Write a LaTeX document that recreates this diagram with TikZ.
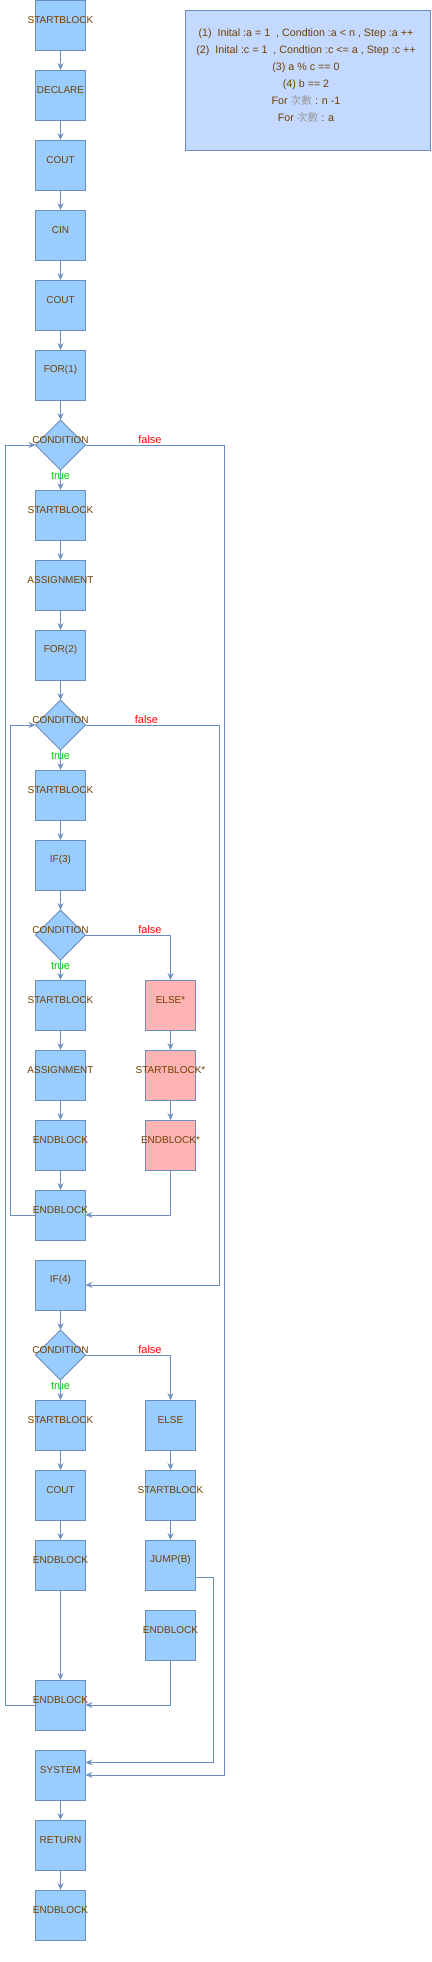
\documentclass[tikz,border=0pt]{standalone}
\usepackage{fontspec}
\setmainfont{Liberation Sans}
\newfontfamily\cjkfont{Noto Sans CJK TC}
\usetikzlibrary{arrows.meta,shapes.geometric,calc}
\definecolor{bfill}{HTML}{99CCFF}
\definecolor{bline}{HTML}{6C8EBF}
\definecolor{rfill}{HTML}{FFB3B3}
\definecolor{nfill}{HTML}{C4D9FF}
\definecolor{tcol}{HTML}{704000}
\definecolor{gcol}{HTML}{9A9A9A}
\definecolor{fcol}{HTML}{FF0000}
\definecolor{trcol}{HTML}{00CC00}
\begin{document}
\begin{tikzpicture}[x=1pt,y=-1pt,
 box/.style={draw=bline, fill=bfill, line width=1pt, minimum width=50pt, minimum height=50pt, inner sep=0pt, outer sep=0pt},
 rbox/.style={box, fill=rfill},
 cond/.style={diamond, draw=bline, fill=bfill, line width=1pt, minimum width=50pt, minimum height=50pt, inner sep=0pt, outer sep=0pt, aspect=1},
 txt/.style={text=tcol, font=\fontsize{10}{12}\selectfont, inner sep=0pt},
 arr/.style={draw=bline, line width=1pt, -{Stealth[length=7pt,width=6pt,inset=2.5pt]}},
 flbl/.style={text=fcol, font=\fontsize{11}{13}\selectfont, inner sep=0pt},
 tlbl/.style={text=trcol, font=\fontsize{11}{13}\selectfont, inner sep=0pt},
]
\useasboundingbox (0,0) rectangle (431,1962);

% note
\node[draw=bline, fill=nfill, line width=1pt, minimum width=245pt, minimum height=140pt, inner sep=0pt] (note) at (307.8,80.3) {};
\node[text=tcol, inner sep=0pt, align=center, font=\fontsize{10.7}{17}\selectfont] (notetxt) at (306,75.7) {(1)\ \ Inital :a = 1\ \ , Condtion :a < n , Step :a ++\\(2)\ \ Inital :c = 1\ \ , Condtion :c <= a , Step :c ++\\(3) a \% c == 0\\(4) b == 2\\For {\cjkfont\color{gcol}次數} : n -1\\For {\cjkfont\color{gcol}次數} : a};

% left column
\node[box, label={[txt,yshift=5pt]center:STARTBLOCK}] (s0) at (60.5,25) {};
\node[box, label={[txt,yshift=5pt]center:DECLARE}] (decl) at (60.5,95) {};
\node[box, label={[txt,yshift=5pt]center:COUT}] (cout1) at (60.5,165) {};
\node[box, label={[txt,yshift=5pt]center:CIN}] (cin) at (60.5,235) {};
\node[box, label={[txt,yshift=5pt]center:COUT}] (cout2) at (60.5,305) {};
\node[box, label={[txt,yshift=5pt]center:FOR(1)}] (for1) at (60.5,375) {};
\node[cond, label={[txt,yshift=5pt]center:CONDITION}] (c1) at (60.5,445) {};
\node[box, label={[txt,yshift=5pt]center:STARTBLOCK}] (sb1) at (60.5,515) {};
\node[box, label={[txt,yshift=5pt]center:ASSIGNMENT}] (asg1) at (60.5,585) {};
\node[box, label={[txt,yshift=5pt]center:FOR(2)}] (for2) at (60.5,655) {};
\node[cond, label={[txt,yshift=5pt]center:CONDITION}] (c2) at (60.5,725) {};
\node[box, label={[txt,yshift=5pt]center:STARTBLOCK}] (sb2) at (60.5,795) {};
\node[box, label={[txt,yshift=5pt]center:IF(3)}] (if3) at (60.5,865) {};
\node[cond, label={[txt,yshift=5pt]center:CONDITION}] (c3) at (60.5,935) {};
\node[box, label={[txt,yshift=5pt]center:STARTBLOCK}] (sb3) at (60.5,1005) {};
\node[box, label={[txt,yshift=5pt]center:ASSIGNMENT}] (asg2) at (60.5,1075) {};
\node[box, label={[txt,yshift=5pt]center:ENDBLOCK}] (eb3) at (60.5,1145) {};
\node[box, label={[txt,yshift=5pt]center:ENDBLOCK}] (eb2) at (60.5,1215) {};
\node[box, label={[txt,yshift=5pt]center:IF(4)}] (if4) at (60.5,1285) {};
\node[cond, label={[txt,yshift=5pt]center:CONDITION}] (c4) at (60.5,1355) {};
\node[box, label={[txt,yshift=5pt]center:STARTBLOCK}] (sb4) at (60.5,1425) {};
\node[box, label={[txt,yshift=5pt]center:COUT}] (cout3) at (60.5,1495) {};
\node[box, label={[txt,yshift=5pt]center:ENDBLOCK}] (eb4) at (60.5,1565) {};
\node[box, label={[txt,yshift=5pt]center:ENDBLOCK}] (eb1) at (60.5,1705) {};
\node[box, label={[txt,yshift=5pt]center:SYSTEM}] (sys) at (60.5,1775) {};
\node[box, label={[txt,yshift=5pt]center:RETURN}] (ret) at (60.5,1845) {};
\node[box, label={[txt,yshift=5pt]center:ENDBLOCK}] (fin) at (60.5,1915) {};

% right column
\node[rbox, label={[txt,yshift=5pt]center:ELSE*}] (else3) at (170.5,1005) {};
\node[rbox, label={[txt,yshift=5pt]center:STARTBLOCK*}] (sb3r) at (170.5,1075) {};
\node[rbox, label={[txt,yshift=5pt]center:ENDBLOCK*}] (eb3r) at (170.5,1145) {};
\node[box, label={[txt,yshift=5pt]center:ELSE}] (else4) at (170.5,1425) {};
\node[box, label={[txt,yshift=5pt]center:STARTBLOCK}] (sb4r) at (170.5,1495) {};
\node[box, label={[txt,yshift=5pt]center:JUMP(B)}] (jump) at (170.5,1565) {};
\node[box, label={[txt,yshift=5pt]center:ENDBLOCK}] (eb4r) at (170.5,1635) {};

% straight arrows
\foreach \a/\b in {s0/decl,decl/cout1,cout1/cin,cin/cout2,cout2/for1,for1/c1,c1/sb1,sb1/asg1,asg1/for2,for2/c2,c2/sb2,sb2/if3,if3/c3,c3/sb3,sb3/asg2,asg2/eb3,eb3/eb2,if4/c4,c4/sb4,sb4/cout3,cout3/eb4,eb4/eb1,sys/ret,ret/fin,else3/sb3r,sb3r/eb3r,else4/sb4r,sb4r/jump}
  \draw[arr] (\a.south) -- (\b.north);

% loops
\coordinate (L1) at (5.3,445);
\coordinate (R1) at (224.3,445);
\coordinate (L2) at (10.7,725);
\coordinate (R2) at (219.3,725);
\coordinate (R3) at (213.3,0);
\draw[arr] (eb1.west) -| (L1) -- (c1.west);
\draw[arr] (c1.east) -- (R1) |- (sys.east);
\draw[arr] (eb2.west) -| (L2) -- (c2.west);
\draw[arr] (c2.east) -- (R2) |- (if4.east);
\draw[arr] (c3.east) -| (else3.north);
\draw[arr] (eb3r.south) |- (eb2.east);
\draw[arr] (c4.east) -| (else4.north);
\draw[arr] (eb4r.south) |- (eb1.east);
\coordinate (jo) at ($(jump.east)!0.5!(jump.south east)$);
\coordinate (si) at ($(sys.east)!0.5!(sys.north east)$);
\draw[arr] (jo) -- (jo -| R3) |- (si);

% labels
\node[flbl] (f1) at (150,440) {false};
\node[tlbl] (t1) at (60.5,475.7) {true};
\node[flbl] (f2) at (146.5,720) {false};
\node[tlbl] (t2) at (60.5,755.5) {true};
\node[flbl] (f3) at (150,930) {false};
\node[tlbl] (t3) at (60.5,965.5) {true};
\node[flbl] (f4) at (150,1350) {false};
\node[tlbl] (t4) at (60.5,1385.5) {true};
\end{tikzpicture}
\end{document}
